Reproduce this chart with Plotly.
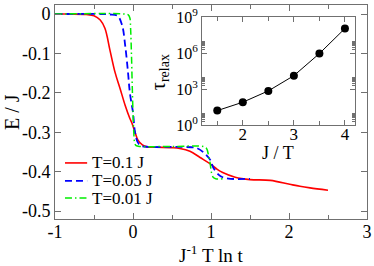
import plotly.graph_objects as go

# ---- data ----
red_x = [-1.0, -0.8, -0.6, -0.5, -0.42, -0.36, -0.295, -0.23, -0.167, -0.10, -0.04, -0.013, 0.026, 0.064,
         0.12, 0.18, 0.3, 0.5, 0.6, 0.73, 0.86, 0.99, 1.08, 1.15, 1.31, 1.5, 1.76, 2.01, 2.14, 2.27, 2.5]
red_y = [0.0, 0.0, -0.001, -0.004, -0.015, -0.036, -0.092, -0.148, -0.188, -0.232, -0.265, -0.277, -0.30, -0.32,
         -0.332, -0.337, -0.338, -0.339, -0.341, -0.348, -0.364, -0.38, -0.394, -0.402, -0.414, -0.42, -0.422,
         -0.432, -0.437, -0.441, -0.447]

blue_x = [-1.0, -0.4, -0.3, -0.2, -0.14, -0.1, -0.064, -0.04, 0.0, 0.026, 0.06, 0.1, 0.2, 0.5, 0.75, 0.83,
          0.92, 0.99, 1.03, 1.1, 1.15, 1.25, 1.5]
blue_y = [0.0, 0.0, -0.001, -0.004, -0.028, -0.08, -0.148, -0.2, -0.25, -0.30, -0.325, -0.334, -0.337,
          -0.337, -0.338, -0.341, -0.354, -0.37, -0.39, -0.408, -0.414, -0.418, -0.418]

green_x = [-1.0, -0.1, -0.06, -0.04, -0.03, -0.02, -0.01, 0.0, 0.01, 0.02, 0.04, 0.1, 0.5, 0.9, 0.94, 0.97,
           0.99, 1.0, 1.01, 1.03, 1.06, 1.15]
green_y = [0.0, 0.0, -0.002, -0.01, -0.04, -0.1, -0.18, -0.25, -0.30, -0.325, -0.334, -0.336, -0.336, -0.336,
           -0.34, -0.36, -0.38, -0.395, -0.405, -0.415, -0.418, -0.418]

series_names = ["T=0.1 J", "T=0.05 J", "T=0.01 J"]

inset_x = [1.5, 2.0, 2.5, 3.0, 3.5, 4.0]
inset_tau = [1.6e1, 8e1, 7e2, 1.3e4, 9e5, 1.1e8]

main_yticks = [0, -0.1, -0.2, -0.3, -0.4, -0.5]
main_yticklabels = ["0", "-0.1", "-0.2", "-0.3", "-0.4", "-0.5"]
main_xticks = [-1, 0, 1, 2, 3]
main_xticklabels = ["-1", "0", "1", "2", "3"]
inset_yticks = [1, 1e3, 1e6, 1e9]
inset_yticklabels = ["10<sup>0</sup>", "10<sup>3</sup>", "10<sup>6</sup>", "10<sup>9</sup>"]
inset_yminor = [m * 10 ** e for e in (0, 3, 6) for m in range(2, 10)]

FONT = "Liberation Serif"
AX = "#707070"

fig = go.Figure()
fig.add_trace(go.Scatter(x=red_x, y=red_y, mode="lines", name=series_names[0],
                         line=dict(color="#ff0000", width=1.6), line_shape="spline"))
fig.add_trace(go.Scatter(x=blue_x, y=blue_y, mode="lines", name=series_names[1],
                         line=dict(color="#0000ff", width=1.8, dash="7px,4px"), line_shape="spline"))
fig.add_trace(go.Scatter(x=green_x, y=green_y, mode="lines", name=series_names[2],
                         line=dict(color="#00ee00", width=1.5, dash="7px,3px,1.5px,3px"), line_shape="spline"))
fig.add_trace(go.Scatter(x=inset_x, y=inset_tau, mode="lines+markers", xaxis="x2", yaxis="y2",
                         line=dict(color="black", width=1), marker=dict(color="black", size=8)))

axis_common = dict(showline=True, linecolor=AX, linewidth=1, mirror="allticks", ticks="inside",
                   tickcolor=AX, showgrid=False, zeroline=False, automargin=False,
                   tickfont=dict(family=FONT, size=18, color="black"))

fig.update_layout(
    width=374, height=266,
    margin=dict(l=55, r=7, t=5, b=47, autoexpand=False),
    paper_bgcolor="white", plot_bgcolor="white",
    showlegend=False,
    xaxis=dict(domain=[0, 1], range=[-1, 3], tickmode="array", tickvals=main_xticks,
               ticktext=main_xticklabels, ticklen=6, ticklabelstandoff=-4,
               minor=dict(dtick=0.5, tick0=-1, ticks="inside", ticklen=4, tickcolor=AX),
               **axis_common),
    yaxis=dict(domain=[0, 1], range=[-0.52, 0.023], tickmode="array", tickvals=main_yticks,
               ticktext=main_yticklabels, ticklen=6,
               **axis_common),
    xaxis2=dict(domain=[0.471, 0.962], anchor="y2", range=[1.2, 4.2], tickmode="array",
                tickvals=[2, 3, 4], ticktext=["2", "3", "4"], ticklen=5, ticklabelstandoff=-6,
                minor=dict(tickvals=[1.5, 2.5, 3.5], ticks="inside", ticklen=4, tickcolor=AX),
                **{**axis_common, "tickfont": dict(family=FONT, size=17, color="black")}),
    yaxis2=dict(domain=[0.439, 0.944], anchor="x2", type="log", range=[0, 9], tickmode="array",
                tickvals=inset_yticks, ticktext=inset_yticklabels, ticklen=5,
                minor=dict(tickvals=inset_yminor, ticks="inside", ticklen=3, tickcolor=AX),
                **{**axis_common, "tickfont": dict(family=FONT, size=16, color="black")}),
)

# axis titles
titles = [
    dict(text="J<sup>-1</sup> T ln t", x=0.5, y=-0.162, textangle=0, size=19),
    dict(text="E / J", x=-0.138, y=0.5, textangle=-90, size=20),
    dict(text="J / T", x=0.715, y=0.31, textangle=0, size=18),
    dict(text="τ<sub>relax</sub>", x=0.337, y=0.687, textangle=-90, size=20),
]
for t in titles:
    fig.add_annotation(text=t["text"], xref="paper", yref="paper", x=t["x"], y=t["y"],
                       xanchor="center", yanchor="middle", textangle=t["textangle"], showarrow=False,
                       font=dict(family=FONT, size=t["size"], color="black"))

# manual legend
leg_colors = ["#ff0000", "#0000ff", "#00ee00"]
leg_dash = ["solid", "7px,4px", "7px,3px,1.5px,3px"]
leg_w = [1.6, 1.8, 1.5]
leg_y = [0.262, 0.178, 0.098]
for name, c, d, w, yy in zip(series_names, leg_colors, leg_dash, leg_w, leg_y):
    fig.add_shape(type="line", xref="paper", yref="paper", x0=0.032, x1=0.103, y0=yy, y1=yy,
                  line=dict(color=c, width=w, dash=d))
    fig.add_annotation(text=name, xref="paper", yref="paper", x=0.112, y=yy, xanchor="left",
                       yanchor="middle", showarrow=False, font=dict(family=FONT, size=17, color="black"))

fig.write_html("out.html", config={"displayModeBar": False},
               post_script="document.body.style.margin='0px';document.body.style.padding='0px';")
